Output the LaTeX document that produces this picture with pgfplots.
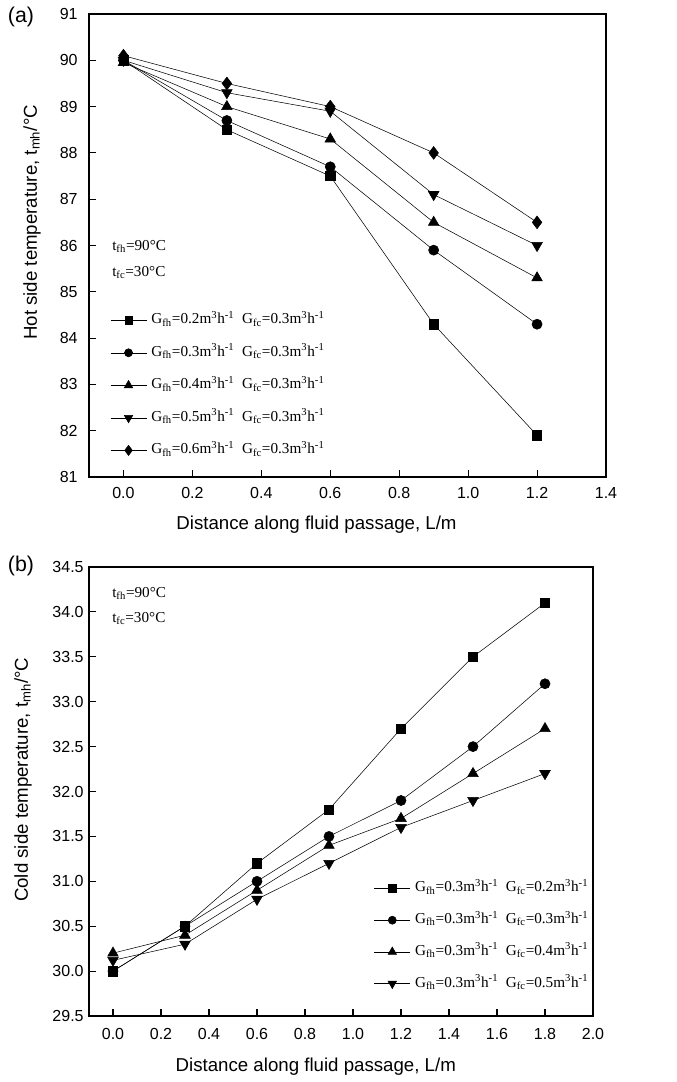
\documentclass[border=0pt]{standalone}
\usepackage{pgfplots}
\pgfplotsset{compat=1.18}
\usepackage{fontspec}
\setmainfont{Liberation Sans}
\newfontfamily\tms{Liberation Serif}

\pgfplotsset{
  myaxis/.style={
    scale only axis,
    anchor=south west,
    axis line style={line width=1pt},
    tick align=inside,
    xtick pos=bottom, ytick pos=left,
    major tick length=5pt,
    tick style={line width=0.8pt, black},
    /pgf/number format/assume math mode=true,
    ticklabel style={font=\fontsize{12}{14}\selectfont},
    xticklabel style={/pgf/number format/fixed, /pgf/number format/fixed zerofill, /pgf/number format/precision=1},
    label style={font=\fontsize{14}{16}\selectfont},
    clip=false,
    legend cell align=left,
    legend image code/.code={\draw[mark repeat=2,mark phase=2, every mark/.append style={scale=0.8}] plot coordinates {(0pt,0pt)(13.5pt,0pt)(27pt,0pt)};},
    legend style={draw=none, fill=none, inner sep=0pt, font=\tms\fontsize{11.4}{13}\selectfont,
      nodes={inner sep=0pt, text height=8pt, text depth=3pt}, column sep=3.5pt, anchor=north west},
  },
  m1/.style={black, line width=0.4pt, mark=square*, mark size=3.5pt},
  m2/.style={black, line width=0.4pt, mark=*, mark size=3.8pt},
  m3/.style={black, line width=0.4pt, mark=triangle*, mark size=4.6pt},
  m4/.style={black, line width=0.4pt, mark=triangle*, mark size=4.6pt, mark options={rotate=180}},
  m5/.style={black, line width=0.4pt, mark=diamond*, mark size=4.8pt},
}

\begin{document}
\begin{tikzpicture}
\useasboundingbox (0pt,0pt) rectangle (507pt,-811.5pt);

% ---------------- (a) ----------------
\begin{axis}[myaxis,
  at={(66.75pt,-357.75pt)},
  width=387.75pt, height=347.25pt,
  xmin=-0.1, xmax=1.4, ymin=81, ymax=91,
  xtick={0,0.2,0.4,0.6,0.8,1.0,1.2,1.4},
  ytick={81,82,83,84,85,86,87,88,89,90,91},
  yticklabel style={xshift=-5pt},
  xticklabel style={yshift=-4pt},
  xlabel={Distance along fluid passage, L/m},
  ylabel={Hot side temperature, t\textsubscript{mh}/°C},
  xlabel style={at={(rel axis cs:0.44,0)}, anchor=center, yshift=-36pt},
  ylabel style={at={(rel axis cs:-0.1102,0.55)}, anchor=center},
  legend style={at={(rel axis cs:0.0406,0.355)}, row sep=13.4pt},
]
\addplot[m1] coordinates {(0,90.0) (0.3,88.5) (0.6,87.5) (0.9,84.3) (1.2,81.9)};
\addlegendentry{G\textsubscript{fh}=0.2m\textsuperscript{3}h\textsuperscript{-1}\ \ G\textsubscript{fc}=0.3m\textsuperscript{3}h\textsuperscript{-1}}
\addplot[m2] coordinates {(0,90.0) (0.3,88.7) (0.6,87.7) (0.9,85.9) (1.2,84.3)};
\addlegendentry{G\textsubscript{fh}=0.3m\textsuperscript{3}h\textsuperscript{-1}\ \ G\textsubscript{fc}=0.3m\textsuperscript{3}h\textsuperscript{-1}}
\addplot[m3] coordinates {(0,89.95) (0.3,89.0) (0.6,88.3) (0.9,86.5) (1.2,85.3)};
\addlegendentry{G\textsubscript{fh}=0.4m\textsuperscript{3}h\textsuperscript{-1}\ \ G\textsubscript{fc}=0.3m\textsuperscript{3}h\textsuperscript{-1}}
\addplot[m4] coordinates {(0,90.0) (0.3,89.3) (0.6,88.9) (0.9,87.1) (1.2,86.0)};
\addlegendentry{G\textsubscript{fh}=0.5m\textsuperscript{3}h\textsuperscript{-1}\ \ G\textsubscript{fc}=0.3m\textsuperscript{3}h\textsuperscript{-1}}
\addplot[m5] coordinates {(0,90.1) (0.3,89.5) (0.6,89.0) (0.9,88.0) (1.2,86.5)};
\addlegendentry{G\textsubscript{fh}=0.6m\textsuperscript{3}h\textsuperscript{-1}\ \ G\textsubscript{fc}=0.3m\textsuperscript{3}h\textsuperscript{-1}}
\end{axis}

% ---------------- (b) ----------------
\begin{axis}[myaxis,
  at={(66.75pt,-762pt)},
  width=378pt, height=336.75pt,
  xmin=-0.1, xmax=2.0, ymin=29.5, ymax=34.5,
  xtick={0,0.2,0.4,0.6,0.8,1.0,1.2,1.4,1.6,1.8,2.0},
  ytick={29.5,30,30.5,31,31.5,32,32.5,33,33.5,34,34.5},
  yticklabel style={xshift=-0.5pt, /pgf/number format/fixed, /pgf/number format/fixed zerofill, /pgf/number format/precision=1},
  xticklabel style={yshift=-6pt},
  xlabel={Distance along fluid passage, L/m},
  ylabel={Cold side temperature, t\textsubscript{mh}/°C},
  xlabel style={at={(rel axis cs:0.45,0)}, anchor=center, yshift=-38.25pt},
  ylabel style={at={(rel axis cs:-0.131,0.526)}, anchor=center},
  legend style={at={(rel axis cs:0.565,0.301)}, row sep=12.8pt},
]
\addplot[m1] coordinates {(0,30.0) (0.3,30.5) (0.6,31.2) (0.9,31.8) (1.2,32.7) (1.5,33.5) (1.8,34.1)};
\addlegendentry{G\textsubscript{fh}=0.3m\textsuperscript{3}h\textsuperscript{-1}\ \ G\textsubscript{fc}=0.2m\textsuperscript{3}h\textsuperscript{-1}}
\addplot[m2] coordinates {(0,30.0) (0.3,30.5) (0.6,31.0) (0.9,31.5) (1.2,31.9) (1.5,32.5) (1.8,33.2)};
\addlegendentry{G\textsubscript{fh}=0.3m\textsuperscript{3}h\textsuperscript{-1}\ \ G\textsubscript{fc}=0.3m\textsuperscript{3}h\textsuperscript{-1}}
\addplot[m3] coordinates {(0,30.2) (0.3,30.4) (0.6,30.9) (0.9,31.4) (1.2,31.7) (1.5,32.2) (1.8,32.7)};
\addlegendentry{G\textsubscript{fh}=0.3m\textsuperscript{3}h\textsuperscript{-1}\ \ G\textsubscript{fc}=0.4m\textsuperscript{3}h\textsuperscript{-1}}
\addplot[m4] coordinates {(0,30.12) (0.3,30.3) (0.6,30.8) (0.9,31.2) (1.2,31.6) (1.5,31.9) (1.8,32.2)};
\addlegendentry{G\textsubscript{fh}=0.3m\textsuperscript{3}h\textsuperscript{-1}\ \ G\textsubscript{fc}=0.5m\textsuperscript{3}h\textsuperscript{-1}}
\end{axis}

% annotations and panel labels
\begin{scope}[every node/.style={anchor=base west, inner sep=0pt, font=\tms\fontsize{11.4}{13}\selectfont}]
\node at (84pt,-187.5pt) {t\textsubscript{fh}=90°C};
\node at (84pt,-207pt) {t\textsubscript{fc}=30°C};
\node at (84pt,-447.75pt) {t\textsubscript{fh}=90°C};
\node at (84pt,-466.5pt) {t\textsubscript{fc}=30°C};
\end{scope}
\node[anchor=center, inner sep=0pt, font=\fontsize{16}{18}\selectfont] at (15.75pt,-12.5pt) {(a)};
\node[anchor=center, inner sep=0pt, font=\fontsize{16}{18}\selectfont] at (15.75pt,-424.5pt) {(b)};
\end{tikzpicture}
\end{document}
